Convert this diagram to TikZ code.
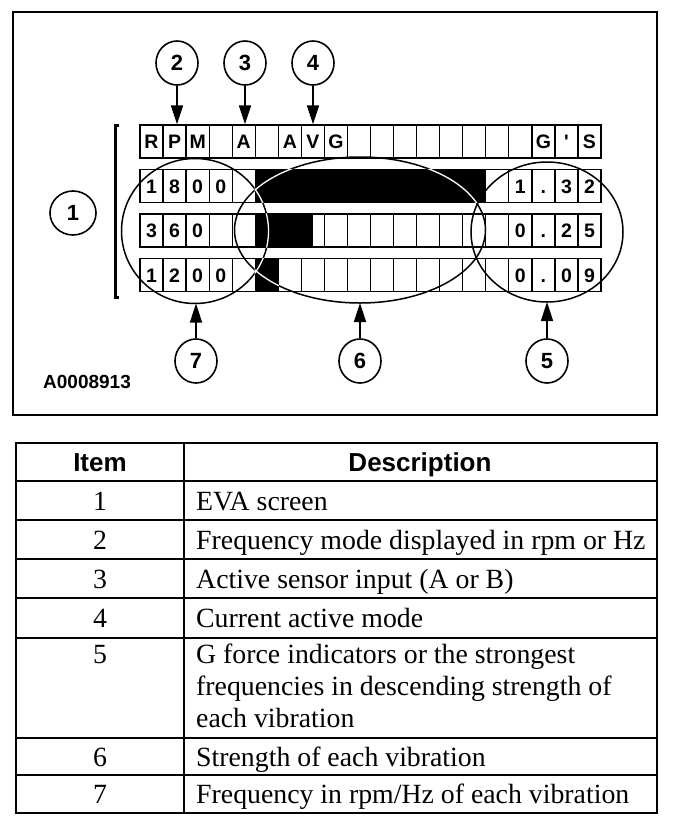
\documentclass[tikz,border=0pt]{standalone}
\usepackage{fontspec}
\setmainfont{Liberation Serif}
\newfontfamily\hv{Liberation Sans}
\usetikzlibrary{shapes.geometric,arrows.meta}
\begin{document}
\begin{tikzpicture}[x=1pt,y=-1pt,
  cell/.style={draw,line width=1.3pt,minimum width=23.05pt,minimum height=33pt,inner sep=0pt,text height=14pt,text depth=0pt,font=\hv\bfseries\fontsize{19.5}{19.5}\selectfont},
  callout/.style={draw,ellipse,line width=1.6pt,minimum width=42pt,minimum height=44pt,inner sep=0pt,font=\hv\bfseries\fontsize{22}{22}\selectfont},
  zone/.style={draw,ellipse,line width=1.5pt,inner sep=0pt,outer sep=0pt},
  arr/.style={line width=1.6pt,-{Triangle[length=19pt,width=12pt]}},
  grid/.style={line width=2.4pt},
  body/.style={font=\fontsize{27.8}{32}\selectfont,inner sep=0pt},
  head/.style={font=\hv\bfseries\fontsize{26}{26}\selectfont,inner sep=0pt}]
\useasboundingbox (0,0) rectangle (688,828);
\fill[white] (0,0) rectangle (688,828);
% frame
\draw[line width=2pt] (13,12) rectangle (657,415);
% display rows
\foreach \t [count=\k] in {R,P,M,{},A,{},A,V,G,{},{},{},{},{},{},{},{},G,',S}
  \node[cell] (r1c\k) at ({140+(\k-0.5)*23.05},141.5) {\t};
\foreach \t [count=\k] in {1,8,0,0,{},{},{},{},{},{},{},{},{},{},{},{},1,.,3,2}
  \node[cell] (r2c\k) at ({140+(\k-0.5)*23.05},186) {\t};
\foreach \t [count=\k] in {3,6,0,{},{},{},{},{},{},{},{},{},{},{},{},{},0,.,2,5}
  \node[cell] (r3c\k) at ({140+(\k-0.5)*23.05},230.5) {\t};
\foreach \t [count=\k] in {1,2,0,0,{},{},{},{},{},{},{},{},{},{},{},{},0,.,0,9}
  \node[cell] (r4c\k) at ({140+(\k-0.5)*23.05},275) {\t};
% strength bars
\fill[black] (r2c6.north west) rectangle (r2c15.south east);
\fill[black] (r3c6.north west) rectangle (r3c8.south);
\fill[black] (r4c6.north west) rectangle (r4c6.south east);
% zones
\node[zone,minimum width=147pt,minimum height=145pt] (e7) at (195,231) {};
\node[zone,minimum width=251pt,minimum height=146pt] (e6) at (360,230) {};
\node[zone,minimum width=152pt,minimum height=140pt] (e5) at (547,232) {};
\begin{scope}
  \clip (r2c6.north west) rectangle (r2c15.south east)
        (r3c6.north west) rectangle (r3c8.south)
        (r4c6.north west) rectangle (r4c6.south east);
  \draw[white,line width=1.3pt] (195,231) ellipse [x radius=73.5,y radius=72.5]
        (360,230) ellipse [x radius=125.5,y radius=73];
\end{scope}
% bracket of item 1
\draw[line width=3pt] (119,125) -- (115,125) -- (115,297) -- (119,297);
% callouts
\node[callout,minimum width=46pt] (c1) at (73,213) {1};
\node[callout] (c2) at (177,63) {2};
\node[callout] (c3) at (245,63) {3};
\node[callout] (c4) at (313,63) {4};
\node[callout] (c7) at (196,361) {7};
\node[callout] (c6) at (360,361) {6};
\node[callout] (c5) at (547,361) {5};
\draw[arr] (c2.south) -- (c2.south |- r1c2.north);
\draw[arr] (c3.south) -- (c3.south |- r1c5.north);
\draw[arr] (c4.south) -- (c4.south |- r1c8.north);
\draw[arr] (c7.north) -- (c7.north |- e7.south);
\draw[arr] (c6.north) -- (c6.north |- e6.south);
\draw[arr] (c5.north) -- (c5.north |- e5.south);
\node[anchor=west,inner sep=0pt,font=\hv\bfseries\fontsize{19}{19}\selectfont] (code) at (43,382) {A0008913};
% table
\draw[grid] (16,443) rectangle (657,813);
\draw[grid] (184,443) -- (184,813);
\foreach \yy in {481,520,559,598,638,738,775}
  \draw[grid] (16,\yy) -- (657,\yy);
\node[head,anchor=base] (hitem) at (100,471) {Item};
\node[head,anchor=base] (hdesc) at (420,471) {Description};
\node[body,anchor=base] (n1) at (100,510) {1};
\node[body,anchor=base] (n2) at (100,549) {2};
\node[body,anchor=base] (n3) at (100,588) {3};
\node[body,anchor=base] (n4) at (100,627.5) {4};
\node[body,anchor=base] (n5) at (100,663) {5};
\node[body,anchor=base] (n6) at (100,766) {6};
\node[body,anchor=base] (n7) at (100,803.5) {7};
\node[body,anchor=base west] (d1) at (196,510) {EVA screen};
\node[body,anchor=base west] (d2) at (196,549) {Frequency mode displayed in rpm or Hz};
\node[body,anchor=base west] (d3) at (196,588) {Active sensor input (A or B)};
\node[body,anchor=base west] (d4) at (196,627.5) {Current active mode};
\node[body,anchor=north west,align=left] (d5) at (196,644) {G force indicators or the strongest\\frequencies in descending strength of\\each vibration};
\node[body,anchor=base west] (d6) at (196,766) {Strength of each vibration};
\node[body,anchor=base west] (d7) at (196,803.5) {Frequency in rpm/Hz of each vibration};
\end{tikzpicture}
\end{document}
